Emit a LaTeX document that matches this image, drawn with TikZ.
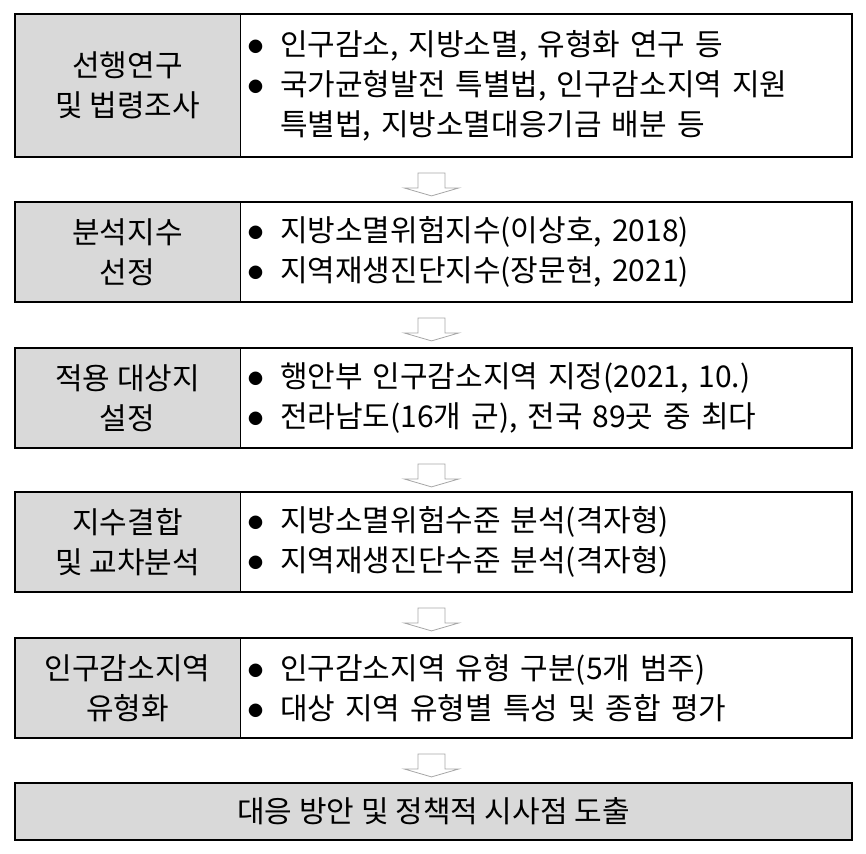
\documentclass[tikz,border=0pt]{standalone}
\usepackage{fontspec}
\setmainfont{Noto Sans CJK KR}
\usetikzlibrary{fit,calc}

\tikzset{
  labelcell/.style={fill=black!15, draw, line width=.8pt, minimum width=225pt,
    inner sep=0pt, outer sep=0pt, align=center, anchor=north west},
  textcell/.style={minimum width=612pt, text width=596pt, inner xsep=8pt,
    inner ysep=0pt, outer sep=0pt, align=left, anchor=north west},
  rowframe/.style={draw, line width=1.8pt, inner sep=0pt},
  downarrow/.pic={
    \draw[black!35, line width=.8pt] (-13.5,0) -- (13.5,0) -- (13.5,-15)
      -- (27.5,-15) -- (0,-23) -- (-27.5,-15) -- (-13.5,-15) -- cycle;}
}
\newcommand{\itm}{\makebox[32pt][l]{\raisebox{3pt}{\fontsize{15}{15}\selectfont ●}}}
\newcommand{\ind}{\hspace*{32pt}}

\begin{document}
\begin{tikzpicture}[x=1pt, y=1pt, font=\fontsize{30}{40}\selectfont]
            \useasboundingbox (0,0) rectangle (866,-853);
            % steps
            \node[labelcell, minimum height=143pt] (lab1) at (15,-14) {선행연구\\및 법령조사};
            \node[textcell, minimum height=143pt] (txt1) at (lab1.north east)
                {\itm 인구감소, 지방소멸, 유형화 연구 등\\
                 \itm 국가균형발전 특별법, 인구감소지역 지원\\
                 \ind 특별법, 지방소멸대응기금 배분 등};
            \node[rowframe, fit=(lab1)(txt1)] (row1) {};

            \node[labelcell, minimum height=100pt] (lab2) at (15,-202) {분석지수\\선정};
            \node[textcell, minimum height=100pt] (txt2) at (lab2.north east)
                {\itm 지방소멸위험지수(이상호, 2018)\\
                 \itm 지역재생진단지수(장문현, 2021)};
            \node[rowframe, fit=(lab2)(txt2)] (row2) {};

            \node[labelcell, minimum height=100pt] (lab3) at (15,-348) {적용 대상지\\설정};
            \node[textcell, minimum height=100pt] (txt3) at (lab3.north east)
                {\itm 행안부 인구감소지역 지정(2021, 10.)\\
                 \itm 전라남도(16개 군), 전국 89곳 중 최다};
            \node[rowframe, fit=(lab3)(txt3)] (row3) {};

            \node[labelcell, minimum height=100pt] (lab4) at (15,-492) {지수결합\\및 교차분석};
            \node[textcell, minimum height=100pt] (txt4) at (lab4.north east)
                {\itm 지방소멸위험수준 분석(격자형)\\
                 \itm 지역재생진단수준 분석(격자형)};
            \node[rowframe, fit=(lab4)(txt4)] (row4) {};

            \node[labelcell, minimum height=100pt] (lab5) at (15,-638) {인구감소지역\\유형화};
            \node[textcell, minimum height=100pt] (txt5) at (lab5.north east)
                {\itm 인구감소지역 유형 구분(5개 범주)\\
                 \itm 대상 지역 유형별 특성 및 종합 평가};
            \node[rowframe, fit=(lab5)(txt5)] (row5) {};

            \node[labelcell, minimum width=837pt, minimum height=57pt] (lab6) at (15,-783)
                {대응 방안 및 정책적 시사점 도출};
            \node[rowframe, fit=(lab6)] (row6) {};

            % arrows
            \foreach \i in {1,...,5}
                \path ($(row\i.south)+(-2,-15)$) pic {downarrow};
        \end{tikzpicture}
\end{document}
